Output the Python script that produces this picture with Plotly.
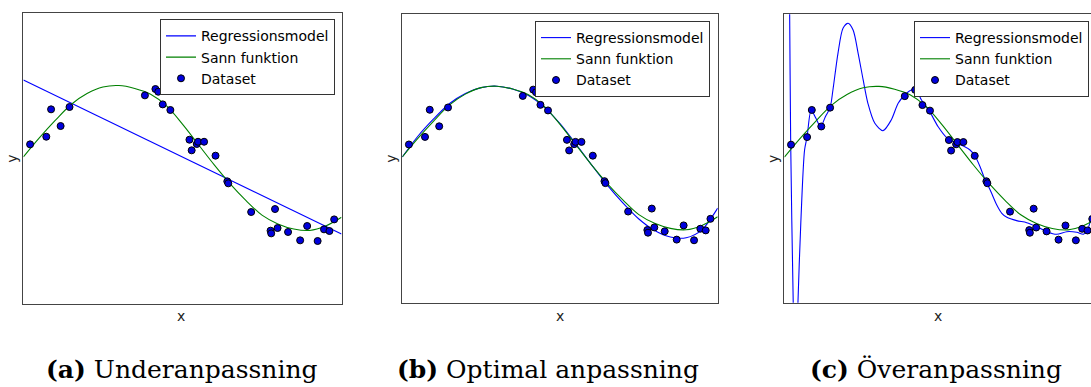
import plotly.graph_objects as go

# ---------------- data ----------------
# Shared noisy dataset (x in [0,1], y in [-2,2])
data_x = [0.021, 0.072, 0.087, 0.117, 0.145, 0.382, 0.415, 0.424, 0.438, 0.462,
          0.522, 0.529, 0.545, 0.549, 0.568, 0.604, 0.641, 0.644, 0.716, 0.791,
          0.777, 0.779, 0.799, 0.832, 0.870, 0.892, 0.925, 0.945, 0.962, 0.977]
data_y = [0.192, 0.297, 0.673, 0.444, 0.705, 0.865, 0.952, 0.915, 0.741, 0.664,
          0.256, 0.110, 0.197, 0.228, 0.228, 0.037, -0.316, -0.343, -0.737, -0.696,
          -0.993, -1.030, -0.957, -1.011, -1.126, -0.929, -1.135, -0.975, -0.998, -0.838]

# True function ("Sann funktion")
true_x = [0.00, 0.05, 0.10, 0.15, 0.20, 0.25, 0.30, 0.35, 0.40, 0.45, 0.50,
          0.55, 0.60, 0.65, 0.70, 0.75, 0.80, 0.85, 0.90, 0.95, 1.00]
true_y = [0.02, 0.28, 0.52, 0.74, 0.89, 0.98, 1.00, 0.96, 0.88, 0.72, 0.47,
          0.19, -0.09, -0.35, -0.58, -0.78, -0.90, -0.97, -0.99, -0.93, -0.81]

# (a) degree-1 regression model
fit_a_x = [0.0, 1.0]
fit_a_y = [1.076, -1.039]

# (b) optimal regression model
fit_b_x = [0.00, 0.05, 0.10, 0.15, 0.20, 0.25, 0.30, 0.35, 0.40, 0.45, 0.50,
           0.55, 0.60, 0.65, 0.70, 0.75, 0.80, 0.85, 0.90, 0.95, 1.00]
fit_b_y = [0.02, 0.31, 0.55, 0.76, 0.90, 0.98, 1.00, 0.96, 0.87, 0.71, 0.48,
           0.20, -0.09, -0.37, -0.62, -0.84, -1.00, -1.09, -1.10, -0.99, -0.69]

# (c) overfitted regression model
fit_c_x = [0.000, 0.010, 0.0167, 0.020, 0.028, 0.035, 0.043, 0.052, 0.064, 0.072,
           0.085, 0.100, 0.115, 0.130, 0.145, 0.154, 0.170, 0.186, 0.202, 0.218,
           0.234, 0.250, 0.265, 0.287, 0.313, 0.339, 0.361, 0.382, 0.403, 0.419,
           0.435, 0.461, 0.488, 0.515, 0.547, 0.568, 0.589, 0.605, 0.621, 0.637,
           0.653, 0.674, 0.690, 0.706, 0.737, 0.769, 0.801, 0.833, 0.864, 0.896,
           0.928, 0.949, 0.962, 0.973, 0.985]
fit_c_y = [12.0, 5.0, 2.0, 0.197, -2.0, -3.3, -2.0, -0.9, 0.118, 0.303,
           0.673, 0.557, 0.441, 0.58, 0.705, 0.95, 1.459, 1.806, 1.875, 1.782,
           1.459, 1.089, 0.766, 0.488, 0.386, 0.534, 0.766, 0.881, 0.950, 0.94,
           0.811, 0.65, 0.44, 0.29, 0.211, 0.174, 0.118, 0.035, -0.114, -0.298,
           -0.437, -0.645, -0.76, -0.816, -0.862, -0.89, -0.946, -1.015, -1.051, -1.015,
           -1.024, -1.051, -0.99, -0.83, -0.6]

panel_fits = [(fit_a_x, fit_a_y, "linear"), (fit_b_x, fit_b_y, "spline"), (fit_c_x, fit_c_y, "spline")]
captions = ["<b>(a)</b> Underanpassning", "<b>(b)</b> Optimal anpassning", "<b>(c)</b> Överanpassning"]
legend_names = ["Regressionsmodel", "Sann funktion", "Dataset"]

# ---------------- layout geometry (pixels) ----------------
W, H = 1091, 387
px_x = lambda v: v / W
px_y = lambda v: 1 - v / H

x_domains = [[px_x(23.4), px_x(341.5)], [px_x(402.3), px_x(717.7)], [px_x(784.4), 1.0]]
y_domains = [[px_y(304.0), px_y(12.7)], [px_y(302.7), px_y(14.0)], [px_y(302.7), px_y(14.3)]]
x_ranges = [[0, 1], [0, 1], [0, 0.973]]
legend_pos = [dict(x=px_x(335), y=px_y(19.3), xanchor="right"),
              dict(x=px_x(710), y=px_y(21), xanchor="right"),
              dict(x=px_x(914), y=px_y(21), xanchor="left")]
caption_x = [182, 548, 936]

BLUE = "#0000ff"
GREEN = "#008000"
FRAME = "#444444"
SANS = "DejaVu Sans"
SERIF = "DejaVu Serif"

fig = go.Figure()
annotations = []
layout_extra = {}

for i in range(3):
    suf = "" if i == 0 else str(i + 1)
    xa, ya = "x" + suf, "y" + suf
    leg = "legend" + suf
    fx, fy, shape = panel_fits[i]
    fig.add_trace(go.Scatter(x=fx, y=fy, mode="lines", name=legend_names[0],
                             line=dict(color=BLUE, width=1.1, shape=shape, smoothing=0.8),
                             xaxis=xa, yaxis=ya, legend=leg))
    fig.add_trace(go.Scatter(x=true_x, y=true_y, mode="lines", name=legend_names[1],
                             line=dict(color=GREEN, width=1.1, shape="spline", smoothing=1.0),
                             xaxis=xa, yaxis=ya, legend=leg))
    fig.add_trace(go.Scatter(x=data_x, y=data_y, mode="markers", name=legend_names[2],
                             marker=dict(color="#0000dd", size=7, line=dict(color="black", width=1)),
                             xaxis=xa, yaxis=ya, legend=leg))

    layout_extra["xaxis" + suf] = dict(
        domain=x_domains[i], range=x_ranges[i], showticklabels=False, ticks="",
        showgrid=False, zeroline=False, showline=True, mirror=True,
        linecolor=FRAME, linewidth=1, anchor=ya, fixedrange=True)
    layout_extra["yaxis" + suf] = dict(
        domain=y_domains[i], range=[-2, 2], showticklabels=False, ticks="",
        showgrid=False, zeroline=False, showline=True, mirror=(i < 2),
        linecolor=FRAME, linewidth=1, anchor=xa, fixedrange=True)
    layout_extra[leg] = dict(
        **legend_pos[i], yanchor="top", bgcolor="white", bordercolor="#333333",
        borderwidth=1, font=dict(family=SANS, size=14, color="black"),
        itemwidth=30, tracegroupgap=0)

    # axis labels
    cx = (x_domains[i][0] + min(x_domains[i][1], x_domains[i][0] + 315 / W)) / 2
    annotations.append(dict(text="x", x=cx, y=px_y(315.5), xref="paper", yref="paper",
                            showarrow=False, font=dict(family=SANS, size=14, color="#222"),
                            xanchor="center", yanchor="middle"))
    annotations.append(dict(text="y", x=x_domains[i][0] - 11 / W, y=(y_domains[i][0] + y_domains[i][1]) / 2,
                            xref="paper", yref="paper", showarrow=False, textangle=-90,
                            font=dict(family=SANS, size=14, color="#222"),
                            xanchor="center", yanchor="middle"))
    # caption
    annotations.append(dict(text=captions[i], x=px_x(caption_x[i]), y=px_y(369), xref="paper",
                            yref="paper", showarrow=False,
                            font=dict(family=SERIF, size=25, color="black"),
                            xanchor="center", yanchor="middle"))

fig.update_layout(
    width=W, height=H, margin=dict(l=0, r=0, t=0, b=0, pad=0),
    paper_bgcolor="white", plot_bgcolor="white", showlegend=True,
    annotations=annotations, **layout_extra)

fig.write_html("out.html", config={"displayModeBar": False},
               post_script="document.body.style.margin='0';document.body.style.overflow='hidden';")
